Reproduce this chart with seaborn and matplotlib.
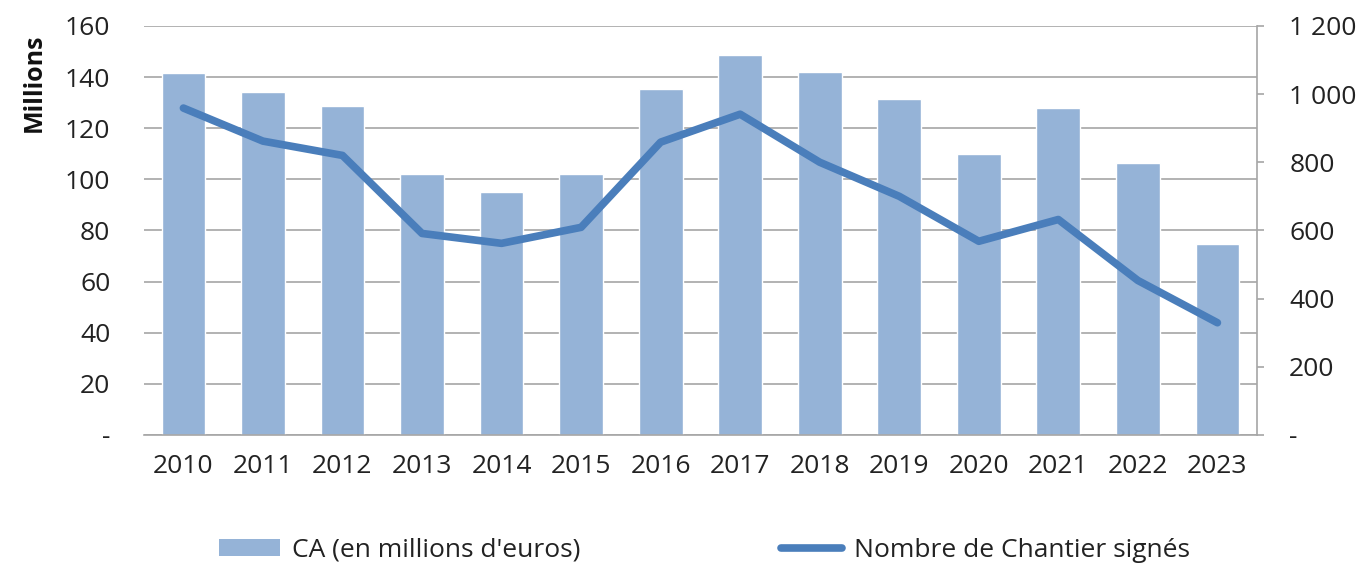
import numpy as np
import pandas as pd
import matplotlib
matplotlib.use("Agg")
import matplotlib.pyplot as plt
import seaborn as sns
from matplotlib.patches import Patch
from matplotlib.lines import Line2D
from matplotlib.ticker import FuncFormatter

# ========== DATA ==========
years = ["2010", "2011", "2012", "2013", "2014", "2015", "2016",
         "2017", "2018", "2019", "2020", "2021", "2022", "2023"]
ca_millions = [141.5, 134, 128.5, 102, 95, 102, 135.5,
               148.5, 142, 131.5, 110, 128, 106.5, 74.5]
chantiers = [959, 862, 820, 591, 562, 609, 859,
             941, 800, 700, 568, 632, 453, 329]

BAR_COLOR = "#95B3D7"
LINE_COLOR = "#4A7EBB"
GRID_COLOR = "#A6A6A6"
TEXT_COLOR = "#222222"

sns.set_theme(style="white")
plt.rcParams["font.family"] = ["Open Sans", "DejaVu Sans"]

df = pd.DataFrame({"year": years, "ca": ca_millions, "n": chantiers})

fig = plt.figure(figsize=(13.68, 5.64), dpi=100)
ax = fig.add_axes([0.105, 0.229, 0.814, 0.725])

sns.barplot(data=df, x="year", y="ca", color=BAR_COLOR, width=0.55,
            saturation=1, ax=ax, zorder=2)
ax.set_xlim(-0.5, len(years) - 0.5)
ax.set_ylim(0, 160)
ax.set_yticks(np.arange(0, 161, 20))
ax.yaxis.set_major_formatter(FuncFormatter(lambda v, p: "-" if v == 0 else f"{v:.0f}"))
ax.grid(axis="y", color=GRID_COLOR, lw=1.2, zorder=0)
ax.set_axisbelow(True)
for s in ["top", "left", "right"]:
    ax.spines[s].set_visible(False)
ax.spines["bottom"].set_color(GRID_COLOR)
ax.spines["bottom"].set_linewidth(1.2)
ax.tick_params(axis="both", length=0, labelsize=19, colors=TEXT_COLOR)
ax.tick_params(axis="y", pad=24)
ax.tick_params(axis="x", pad=14)
ax.set_xlabel("")
ax.set_ylabel("Millions", fontsize=18, fontweight="bold", color="#111111")
ax.yaxis.set_label_coords(-0.087, 0.86)

ax2 = ax.twinx()
sns.lineplot(x=np.arange(len(years)), y=chantiers, color=LINE_COLOR, lw=5.5,
             ax=ax2, solid_capstyle="round", solid_joinstyle="round")
ax2.set_ylim(0, 1200)
ax2.set_yticks(np.arange(0, 1201, 200))
ax2.yaxis.set_major_formatter(
    FuncFormatter(lambda v, p: "-" if v == 0 else f"{int(v):,}".replace(",", " ")))
for s in ["top", "left", "bottom"]:
    ax2.spines[s].set_visible(False)
ax2.spines["right"].set_color(GRID_COLOR)
ax2.spines["right"].set_linewidth(1.2)
ax2.tick_params(axis="y", direction="out", length=5, width=1.2, color=GRID_COLOR,
                labelsize=19, labelcolor=TEXT_COLOR, pad=18)
ax2.grid(False)

handles = [Patch(facecolor=BAR_COLOR, edgecolor="none"),
           Line2D([0], [0], color=LINE_COLOR, lw=5.5)]
fig.legend(handles, ["CA (en millions d'euros)", "Nombre de Chantier signés"],
           loc="lower center", bbox_to_anchor=(0.515, -0.04), ncol=2, frameon=False,
           fontsize=19, handlelength=2.3, handleheight=0.6, handletextpad=0.45,
           columnspacing=7.6, labelcolor=TEXT_COLOR)

fig.savefig("out.png", dpi=100)
